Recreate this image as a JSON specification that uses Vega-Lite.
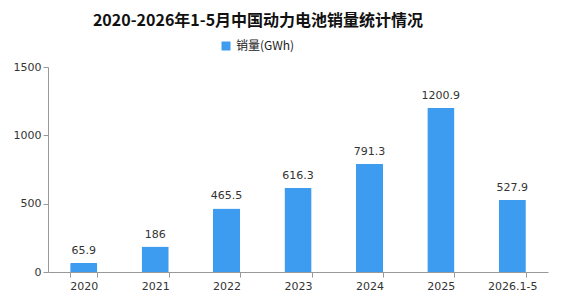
{
  "$schema": "https://vega.github.io/schema/vega-lite/v6.json",
  "width": 500,
  "height": 205,
  "autosize": "none",
  "padding": {"left": 48, "top": 67, "right": 18, "bottom": 28},
  "background": "white",
  "title": {
    "text": "2020-2026年1-5月中国动力电池销量统计情况",
    "font": "Noto Sans CJK SC",
    "fontSize": 16,
    "fontWeight": "bold",
    "color": "#111111",
    "anchor": "middle",
    "dx": -40,
    "offset": 11
  },
  "data": {
    "values": [
      {"year": "2020", "series": "销量(GWh)", "value": 65.9, "label": "65.9"},
      {"year": "2021", "series": "销量(GWh)", "value": 186, "label": "186"},
      {"year": "2022", "series": "销量(GWh)", "value": 465.5, "label": "465.5"},
      {"year": "2023", "series": "销量(GWh)", "value": 616.3, "label": "616.3"},
      {"year": "2024", "series": "销量(GWh)", "value": 791.3, "label": "791.3"},
      {"year": "2025", "series": "销量(GWh)", "value": 1200.9, "label": "1200.9"},
      {"year": "2026.1-5", "series": "销量(GWh)", "value": 527.9, "label": "527.9"}
    ]
  },
  "encoding": {
    "x": {
      "field": "year",
      "type": "nominal",
      "sort": null,
      "scale": {"paddingInner": 0.62, "paddingOuter": 0.31},
      "axis": {
        "title": null,
        "labelAngle": 0,
        "labelFont": "DejaVu Sans",
        "labelFontSize": 11,
        "labelColor": "#333333",
        "tickBand": "extent",
        "domainColor": "#999999",
        "tickColor": "#999999",
        "tickSize": 5,
        "labelPadding": 3
      }
    },
    "y": {
      "field": "value",
      "type": "quantitative",
      "scale": {"domain": [0, 1500]},
      "axis": {
        "title": null,
        "values": [0, 500, 1000, 1500],
        "format": "d",
        "grid": false,
        "labelFont": "DejaVu Sans",
        "labelFontSize": 11,
        "labelColor": "#333333",
        "domainColor": "#999999",
        "tickColor": "#999999",
        "tickSize": 5
      }
    }
  },
  "layer": [
    {
      "mark": {"type": "bar", "cornerRadiusTopLeft": 1, "cornerRadiusTopRight": 1},
      "encoding": {
        "color": {
          "field": "series",
          "type": "nominal",
          "scale": {"range": ["#3d9bf0"]},
          "legend": {
            "title": null,
            "orient": "none",
            "legendX": 172,
            "legendY": -27,
            "symbolType": "square",
            "symbolSize": 81,
            "labelFont": "Noto Sans CJK SC",
            "labelFontSize": 12,
            "labelColor": "#222222",
            "symbolStrokeWidth": 0
          }
        }
      }
    },
    {
      "mark": {"type": "text", "dy": -12, "font": "DejaVu Sans", "fontSize": 11, "color": "#333333"},
      "encoding": {"text": {"field": "label"}}
    }
  ],
  "config": {"view": {"stroke": null}}
}
